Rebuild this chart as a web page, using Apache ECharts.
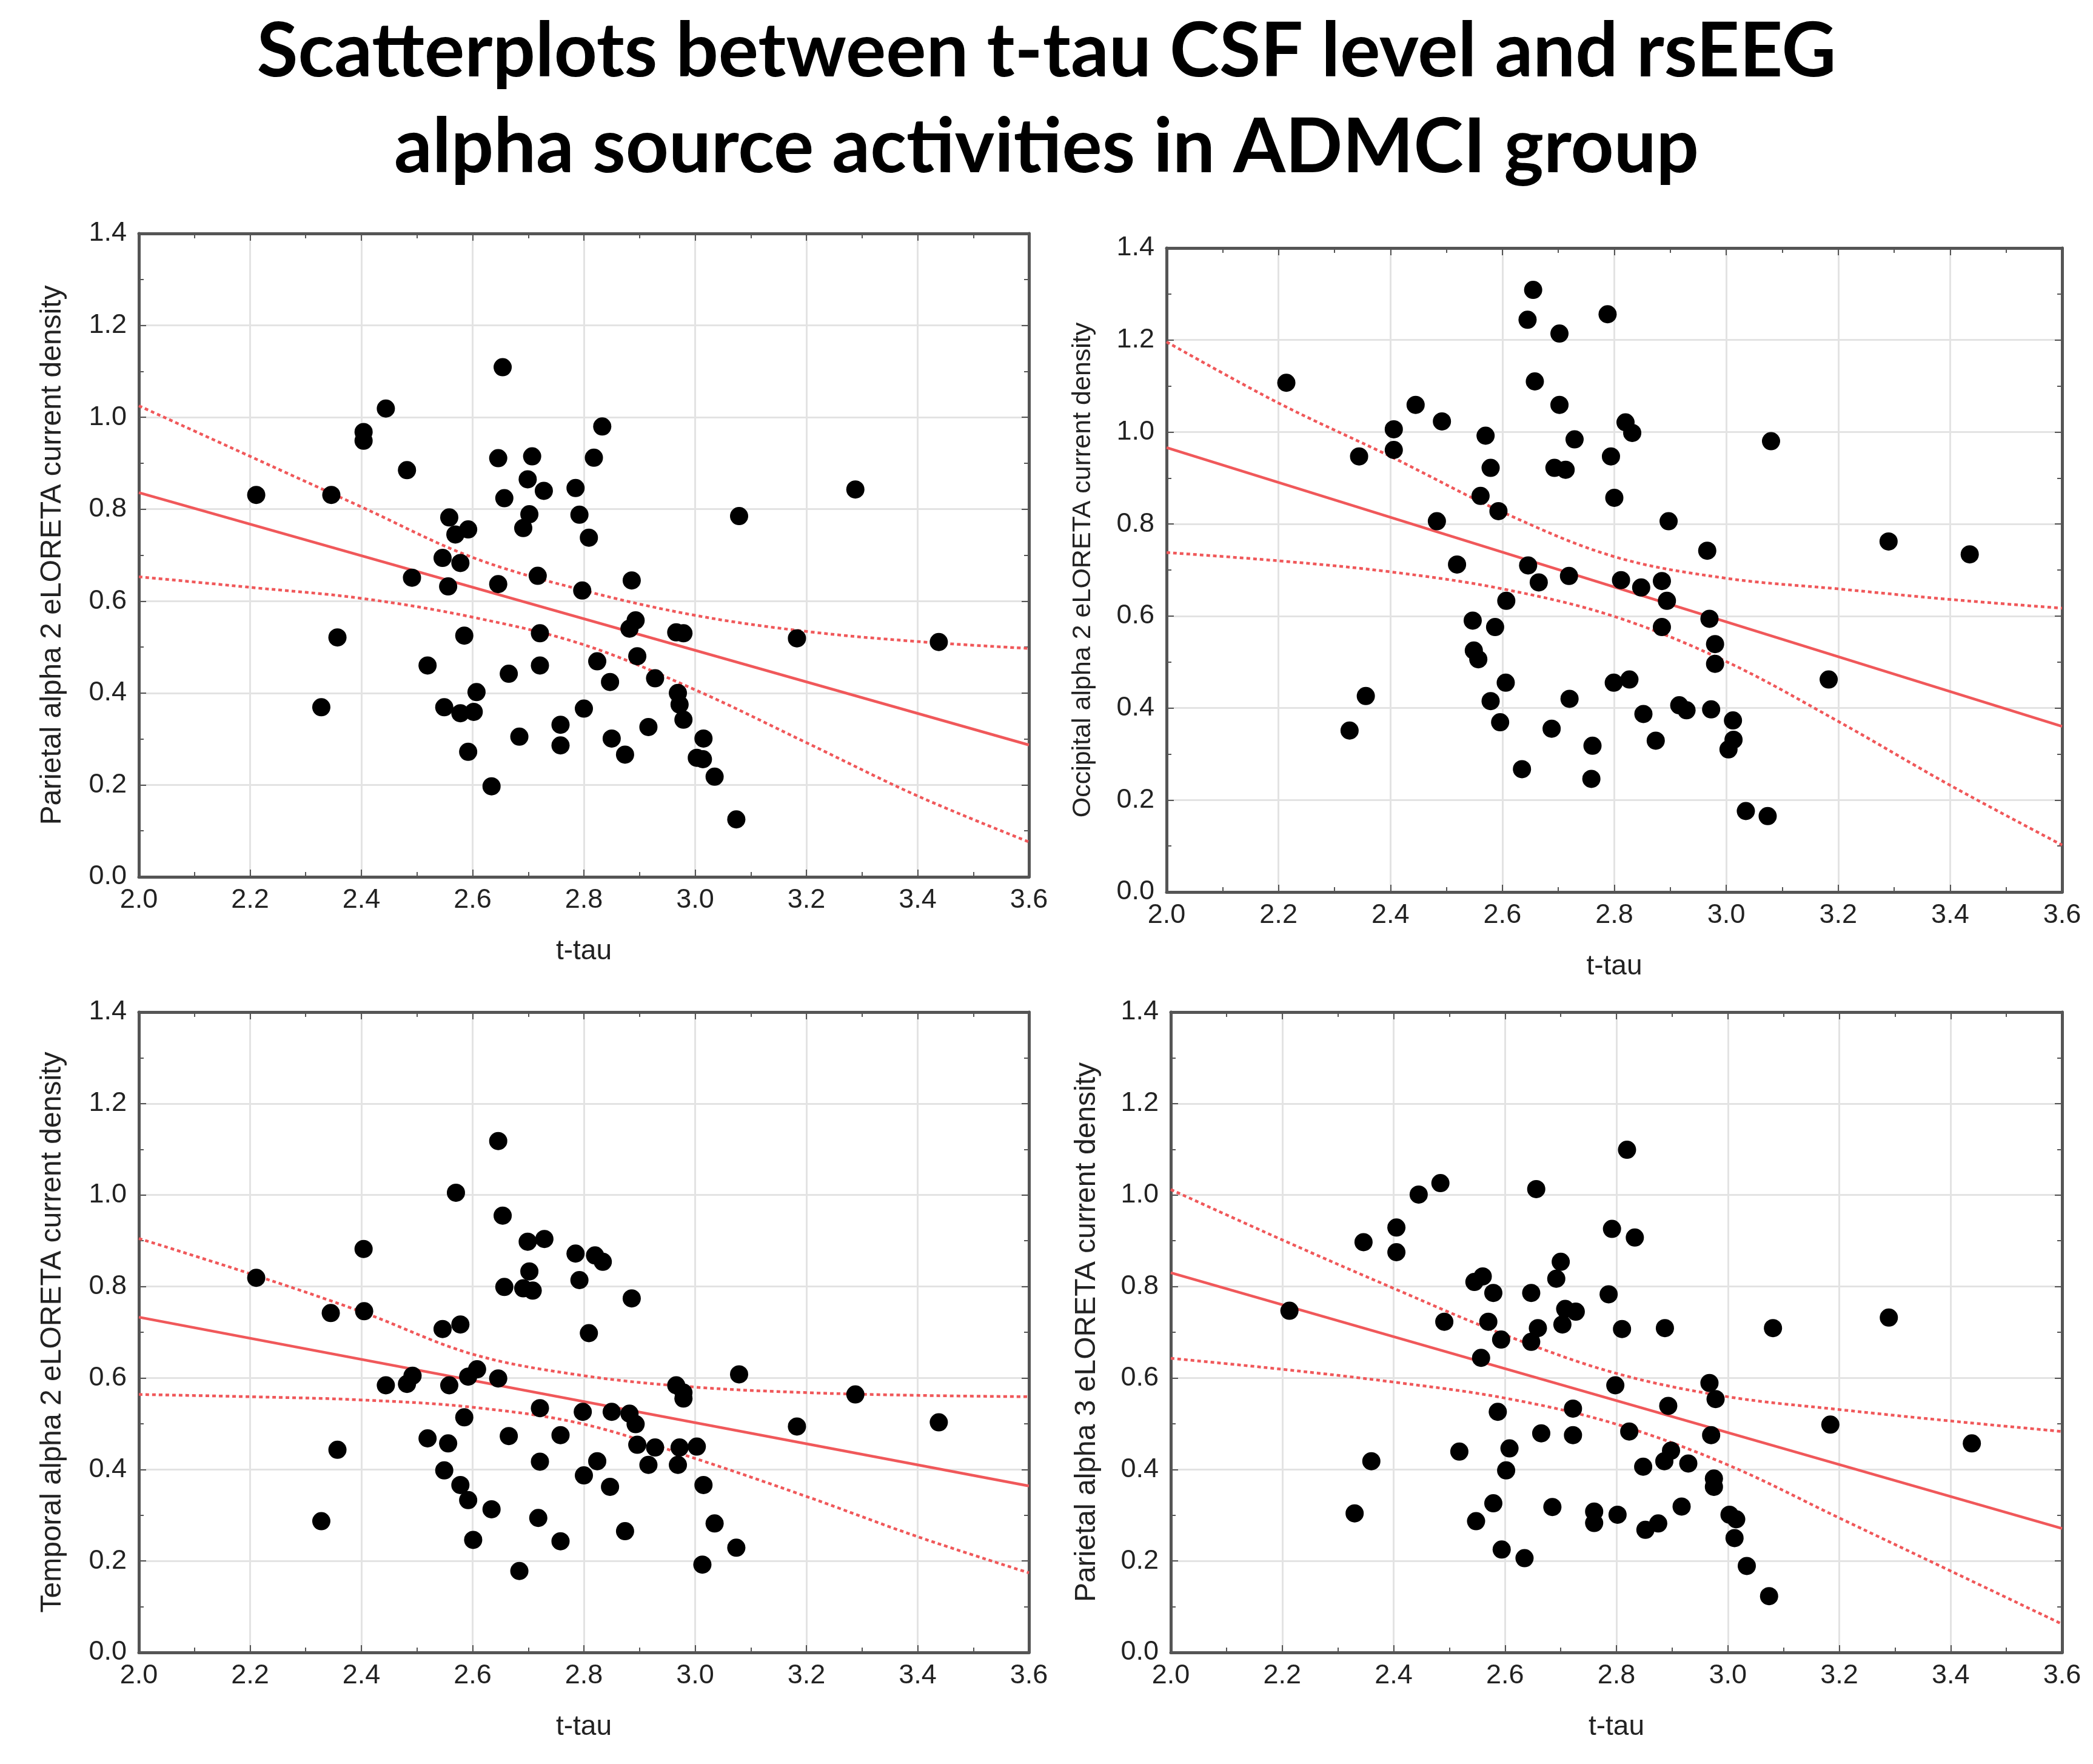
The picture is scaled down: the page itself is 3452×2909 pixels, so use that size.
<!DOCTYPE html>
<html>
<head>
<meta charset="utf-8">
<script src="https://cdn.jsdelivr.net/npm/echarts@6/dist/echarts.min.js"></script>
<style>
  html, body { margin: 0; padding: 0; background: #fff; }
  #chart { width: 3452px; height: 2909px; }
</style>
</head>
<body>
<div id="chart"></div>
<script>
// values (t-tau vs current density)
const p1x = [2.211, 2.346, 2.328, 2.357, 2.404, 2.404, 2.444, 2.482, 2.491, 2.519, 2.546, 2.549, 2.558, 2.569, 2.578, 2.592, 2.556, 2.585, 2.578, 2.602, 2.607, 2.592, 2.634, 2.654, 2.646, 2.657, 2.646, 2.665, 2.684, 2.691, 2.702, 2.699, 2.707, 2.728, 2.717, 2.721, 2.721, 2.758, 2.758, 2.785, 2.792, 2.809, 2.797, 2.800, 2.833, 2.818, 2.824, 2.847, 2.850, 2.874, 2.886, 2.893, 2.882, 2.896, 2.916, 2.928, 2.966, 2.979, 2.969, 2.972, 2.979, 3.015, 3.003, 3.014, 3.035, 3.074, 3.079, 3.183, 3.288, 3.438];
const p1y = [0.831, 0.831, 0.369, 0.521, 0.968, 0.949, 1.019, 0.885, 0.651, 0.460, 0.694, 0.369, 0.782, 0.745, 0.683, 0.756, 0.632, 0.525, 0.356, 0.359, 0.402, 0.272, 0.197, 1.109, 0.911, 0.824, 0.637, 0.442, 0.305, 0.759, 0.789, 0.865, 0.915, 0.840, 0.655, 0.530, 0.460, 0.331, 0.286, 0.846, 0.788, 0.738, 0.623, 0.366, 0.980, 0.912, 0.469, 0.424, 0.301, 0.266, 0.645, 0.558, 0.540, 0.480, 0.326, 0.432, 0.532, 0.530, 0.400, 0.375, 0.342, 0.301, 0.259, 0.256, 0.218, 0.125, 0.785, 0.519, 0.843, 0.511];

const p2x = [2.214, 2.344, 2.327, 2.356, 2.406, 2.406, 2.445, 2.492, 2.483, 2.519, 2.547, 2.549, 2.557, 2.561, 2.570, 2.579, 2.593, 2.587, 2.579, 2.606, 2.596, 2.635, 2.645, 2.655, 2.658, 2.646, 2.665, 2.607, 2.688, 2.702, 2.702, 2.729, 2.693, 2.713, 2.719, 2.720, 2.761, 2.759, 2.788, 2.794, 2.800, 2.820, 2.832, 2.812, 2.848, 2.799, 2.827, 2.852, 2.874, 2.885, 2.894, 2.885, 2.897, 2.916, 2.929, 2.966, 2.970, 2.980, 2.980, 2.973, 3.012, 3.013, 3.004, 3.035, 3.074, 3.080, 3.183, 3.290, 3.435];
const p2y = [1.107, 0.947, 0.351, 0.426, 1.006, 0.961, 1.059, 1.023, 0.806, 0.712, 0.590, 0.525, 0.506, 0.861, 0.992, 0.922, 0.828, 0.576, 0.415, 0.455, 0.369, 0.267, 1.244, 1.309, 1.110, 0.710, 0.673, 0.633, 0.355, 1.214, 1.059, 0.984, 0.922, 0.918, 0.687, 0.420, 0.318, 0.246, 1.256, 0.947, 0.857, 1.021, 0.998, 0.678, 0.662, 0.455, 0.462, 0.387, 0.329, 0.676, 0.633, 0.576, 0.806, 0.406, 0.395, 0.742, 0.594, 0.539, 0.496, 0.397, 0.373, 0.331, 0.310, 0.176, 0.165, 0.980, 0.462, 0.762, 0.734];

const p3x = [2.211, 2.345, 2.328, 2.357, 2.404, 2.405, 2.444, 2.482, 2.492, 2.519, 2.546, 2.549, 2.570, 2.578, 2.558, 2.556, 2.578, 2.592, 2.608, 2.585, 2.592, 2.601, 2.634, 2.646, 2.654, 2.657, 2.646, 2.665, 2.684, 2.691, 2.708, 2.702, 2.699, 2.729, 2.721, 2.721, 2.718, 2.758, 2.758, 2.785, 2.792, 2.820, 2.834, 2.809, 2.798, 2.800, 2.824, 2.850, 2.847, 2.874, 2.886, 2.882, 2.893, 2.896, 2.916, 2.928, 2.966, 2.979, 2.979, 2.972, 2.969, 3.003, 3.015, 3.035, 3.013, 3.074, 3.079, 3.183, 3.288, 3.438];
const p3y = [0.819, 0.742, 0.287, 0.443, 0.882, 0.746, 0.584, 0.587, 0.605, 0.468, 0.707, 0.398, 1.005, 0.717, 0.584, 0.457, 0.366, 0.603, 0.619, 0.514, 0.333, 0.246, 0.313, 1.118, 0.955, 0.799, 0.599, 0.473, 0.178, 0.796, 0.791, 0.833, 0.898, 0.904, 0.534, 0.417, 0.294, 0.475, 0.243, 0.872, 0.814, 0.868, 0.854, 0.698, 0.526, 0.387, 0.418, 0.526, 0.362, 0.265, 0.774, 0.522, 0.499, 0.454, 0.410, 0.448, 0.584, 0.568, 0.555, 0.448, 0.410, 0.450, 0.366, 0.282, 0.192, 0.229, 0.608, 0.494, 0.564, 0.503];

const p4x = [2.213, 2.330, 2.346, 2.360, 2.405, 2.405, 2.445, 2.484, 2.491, 2.518, 2.545, 2.560, 2.579, 2.570, 2.557, 2.593, 2.587, 2.548, 2.579, 2.608, 2.602, 2.594, 2.635, 2.656, 2.647, 2.659, 2.647, 2.665, 2.685, 2.700, 2.692, 2.708, 2.727, 2.703, 2.722, 2.722, 2.760, 2.760, 2.786, 2.792, 2.810, 2.819, 2.833, 2.798, 2.823, 2.802, 2.848, 2.852, 2.875, 2.887, 2.893, 2.886, 2.898, 2.929, 2.917, 2.967, 2.978, 2.970, 2.975, 2.975, 3.003, 3.015, 3.012, 3.034, 3.074, 3.081, 3.184, 3.289, 3.438];
const p4y = [0.747, 0.304, 0.897, 0.418, 0.929, 0.875, 1.001, 1.026, 0.723, 0.439, 0.810, 0.822, 0.786, 0.723, 0.644, 0.684, 0.526, 0.287, 0.326, 0.446, 0.398, 0.225, 0.206, 1.013, 0.786, 0.709, 0.679, 0.479, 0.318, 0.854, 0.817, 0.751, 0.745, 0.717, 0.533, 0.475, 0.308, 0.283, 0.783, 0.926, 0.707, 1.099, 0.907, 0.584, 0.483, 0.301, 0.406, 0.268, 0.282, 0.709, 0.539, 0.418, 0.441, 0.413, 0.319, 0.589, 0.554, 0.475, 0.380, 0.362, 0.301, 0.291, 0.250, 0.189, 0.123, 0.709, 0.498, 0.732, 0.457];

// fitted line end points and 95% band read at each 0.2 of t-tau
const fitX = [2.0, 3.6];
const fit1 = [0.836, 0.287];
const fit2 = [0.966, 0.360];
const fit3 = [0.733, 0.364];
const fit4 = [0.830, 0.271];

const bandX = [2.0, 2.2, 2.4, 2.6, 2.8, 3.0, 3.2, 3.4, 3.6];
const hi1 = [1.025, 0.915, 0.805, 0.695, 0.623, 0.569, 0.534, 0.512, 0.497];
const lo1 = [0.653, 0.630, 0.606, 0.565, 0.505, 0.407, 0.292, 0.176, 0.076];
const hi2 = [1.196, 1.063, 0.947, 0.826, 0.729, 0.682, 0.659, 0.636, 0.617];
const lo2 = [0.738, 0.720, 0.696, 0.659, 0.599, 0.501, 0.371, 0.232, 0.102];
const hi3 = [0.905, 0.828, 0.745, 0.652, 0.605, 0.580, 0.568, 0.562, 0.559];
const lo3 = [0.564, 0.559, 0.552, 0.536, 0.499, 0.424, 0.341, 0.253, 0.174];
const hi4 = [1.012, 0.902, 0.796, 0.694, 0.610, 0.559, 0.531, 0.506, 0.483];
const lo4 = [0.643, 0.619, 0.591, 0.556, 0.499, 0.410, 0.294, 0.178, 0.062];

const yNames = [
  "Parietal alpha 2 eLORETA current density",
  "Occipital alpha 2 eLORETA current density",
  "Temporal alpha 2 eLORETA current density",
  "Parietal alpha 3 eLORETA current density"
];
const xName = "t-tau";

const panels = [
  { x: p1x, y: p1y, fit: fit1, hi: hi1, lo: lo1, grid: { left: 229, top: 385, width: 1468, height: 1061 }, nameSize: 48, nameGap: 118 },
  { x: p2x, y: p2y, fit: fit2, hi: hi2, lo: lo2, grid: { left: 1924, top: 409, width: 1477, height: 1062 }, nameSize: 43, nameGap: 116 },
  { x: p3x, y: p3y, fit: fit3, hi: hi3, lo: lo3, grid: { left: 229, top: 1669, width: 1468, height: 1056 }, nameSize: 48, nameGap: 118 },
  { x: p4x, y: p4y, fit: fit4, hi: hi4, lo: lo4, grid: { left: 1931, top: 1669, width: 1470, height: 1056 }, nameSize: 48, nameGap: 114 }
];

const FONT = "'Liberation Sans', Arial, sans-serif";
const RED = "#f0585a";
const AXIS = "#555";

const chart = echarts.init(document.getElementById("chart"));

const tickCommon = {
  axisLine: { show: true, onZero: false, lineStyle: { color: AXIS, width: 5 } },
  axisTick: { show: true, inside: true, length: 12, lineStyle: { color: AXIS, width: 2 } },
  minorTick: { show: true, splitNumber: 2, length: 8, lineStyle: { color: AXIS, width: 2 } }
};

const xAxes = [];
const yAxes = [];
const series = [];

panels.forEach((p, i) => {
  xAxes.push({
    gridIndex: i, type: "value", min: 2.0, max: 3.6, interval: 0.2,
    name: xName, nameLocation: "middle", nameGap: 100,
    nameTextStyle: { fontFamily: FONT, fontSize: 46, color: "#222" },
    axisLabel: { fontFamily: FONT, fontSize: 45, color: "#222", margin: 16, formatter: (v) => v.toFixed(1) },
    splitLine: { show: true, lineStyle: { color: "#e3e3e3", width: 3 } },
    ...tickCommon
  });
  yAxes.push({
    gridIndex: i, type: "value", min: 0, max: 1.4, interval: 0.2,
    name: yNames[i], nameLocation: "middle", nameRotate: 90, nameGap: p.nameGap,
    nameTextStyle: { fontFamily: FONT, fontSize: p.nameSize, color: "#222" },
    axisLabel: { fontFamily: FONT, fontSize: 45, color: "#222", margin: 20, formatter: (v) => v.toFixed(1) },
    splitLine: { show: true, lineStyle: { color: "#e3e3e3", width: 3 } },
    ...tickCommon
  });
});
// box sides: top and right axes with inner ticks only
panels.forEach((p, i) => {
  xAxes.push({
    gridIndex: i, type: "value", position: "top", min: 2.0, max: 3.6, interval: 0.2,
    axisLabel: { show: false }, splitLine: { show: false }, ...tickCommon
  });
  yAxes.push({
    gridIndex: i, type: "value", position: "right", min: 0, max: 1.4, interval: 0.2,
    axisLabel: { show: false }, splitLine: { show: false }, ...tickCommon
  });
});

panels.forEach((p, i) => {
  series.push({
    type: "line", xAxisIndex: i, yAxisIndex: i, symbol: "none", smooth: 0.35, z: 3,
    lineStyle: { color: RED, width: 4.5, type: [6, 5] },
    data: bandX.map((x, k) => [x, p.hi[k]])
  });
  series.push({
    type: "line", xAxisIndex: i, yAxisIndex: i, symbol: "none", smooth: 0.35, z: 3,
    lineStyle: { color: RED, width: 4.5, type: [6, 5] },
    data: bandX.map((x, k) => [x, p.lo[k]])
  });
  series.push({
    type: "line", xAxisIndex: i, yAxisIndex: i, symbol: "none", z: 3,
    lineStyle: { color: RED, width: 4.5 },
    data: fitX.map((x, k) => [x, p.fit[k]])
  });
  series.push({
    type: "scatter", xAxisIndex: i, yAxisIndex: i, symbol: "circle", symbolSize: 30, z: 4,
    itemStyle: { color: "#000", opacity: 1 },
    data: p.x.map((x, k) => [x, p.y[k]])
  });
});

const option = {
  backgroundColor: "#fff",
  animation: false,
  title: {
    text: "Scatterplots between t-tau CSF level and rsEEG\nalpha source activities in ADMCI group",
    left: "center", top: 2,
    textStyle: { fontFamily: "Lato, 'Open Sans', sans-serif", fontWeight: "bold", fontSize: 124, lineHeight: 158, color: "#000" }
  },
  grid: panels.map((p) => ({ ...p.grid, containLabel: false })),
  xAxis: xAxes,
  yAxis: yAxes,
  series: series
};

chart.setOption(option);
window.addEventListener("resize", chart.resize);
</script>
</body>
</html>
